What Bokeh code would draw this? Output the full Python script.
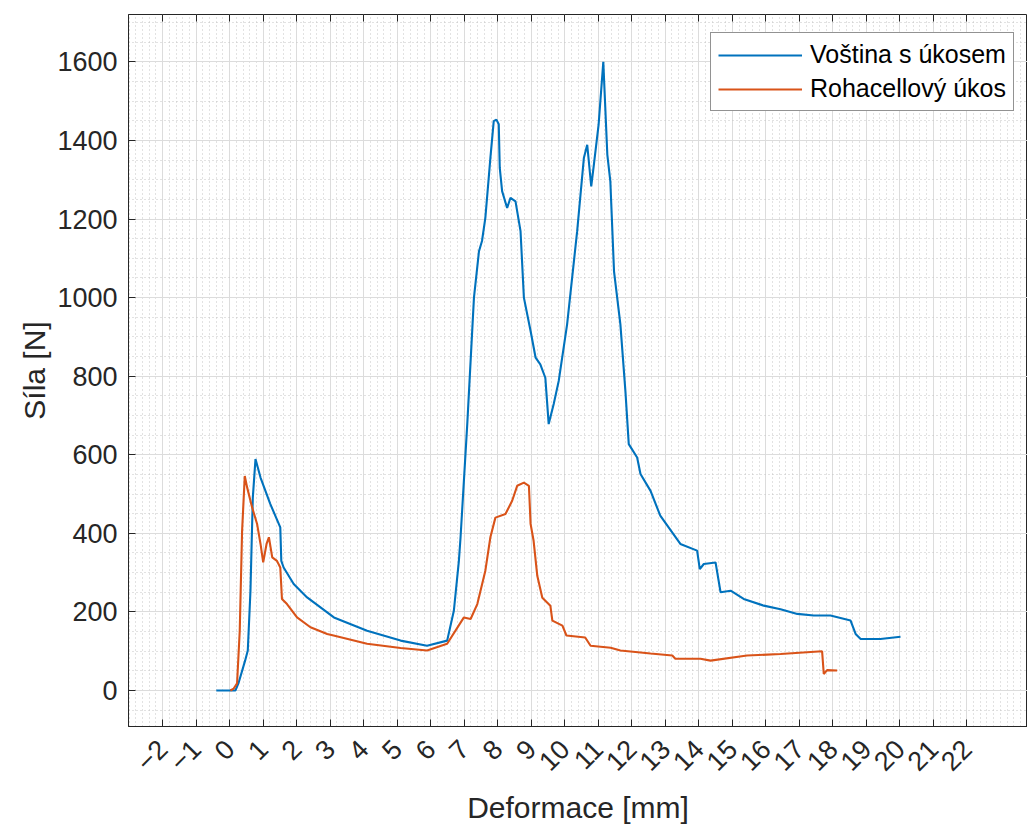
import math
import numpy as np
from bokeh.plotting import figure
from bokeh.models import (Range1d, FixedTicker, LinearAxis, Legend, LegendItem,
                          CustomLabelingPolicy)
from bokeh.embed import file_html
from bokeh.resources import INLINE

# ---- data ----
vostina_x = [-0.40, 0.17, 0.26, 0.46, 0.54, 0.62, 0.69, 0.77, 0.92, 1.21, 1.51, 1.54, 1.61,
             1.91, 2.31, 2.91, 3.11, 4.10, 5.10, 5.89, 6.49, 6.69, 6.84, 6.89, 7.09, 7.29,
             7.44, 7.53, 7.63, 7.78, 7.88, 7.96, 8.03, 8.06, 8.13, 8.28, 8.38, 8.53, 8.68,
             8.78, 8.98, 9.13, 9.27, 9.42, 9.47, 9.52, 9.67, 9.82, 10.07, 10.37, 10.57,
             10.67, 10.79, 10.87, 11.01, 11.15, 11.27, 11.36, 11.47, 11.66, 11.81, 11.91,
             12.16, 12.26, 12.56, 12.85, 13.45, 13.95, 14.03, 14.15, 14.50, 14.65, 14.95,
             15.34, 15.94, 16.44, 16.94, 17.43, 17.93, 18.53, 18.68, 18.83, 19.42, 20.02]
vostina_y = [0, 0, 18, 76, 102, 254, 491, 589, 542, 475, 415, 330, 313,
             271, 237, 199, 186, 152, 127, 114, 127, 203, 330, 390, 678, 1000,
             1118, 1144, 1203, 1355, 1449, 1453, 1441, 1330, 1271, 1228, 1254, 1245, 1169,
             1000, 915, 847, 830, 796, 737, 678, 729, 788, 932, 1169, 1355,
             1389, 1283, 1339, 1440, 1600, 1364, 1296, 1067, 932, 762, 627,
             593, 551, 508, 445, 373, 356, 309, 322, 326, 250, 254,
             233, 216, 207, 195, 191, 191, 178, 144, 131, 131, 137]

rohacell_x = [0.02, 0.12, 0.22, 0.30, 0.37, 0.45, 0.52, 0.67, 0.82, 0.92, 1.00, 1.10, 1.17,
              1.27, 1.41, 1.51, 1.56, 1.71, 2.01, 2.41, 2.91, 3.10, 4.10, 5.10, 5.89, 6.49,
              6.99, 7.19, 7.39, 7.63, 7.78, 7.93, 8.23, 8.43, 8.58, 8.78, 8.93, 8.98, 9.07,
              9.18, 9.33, 9.57, 9.63, 9.93, 10.05, 10.61, 10.77, 11.37, 11.66, 12.56, 13.21,
              13.30, 14.05, 14.35, 15.44, 16.44, 17.68, 17.73, 17.83, 18.13]
rohacell_y = [0, 5, 18, 152, 406, 546, 517, 466, 423, 373, 326, 373, 390,
              339, 330, 313, 233, 220, 186, 161, 144, 140, 119, 108, 102, 119,
              186, 182, 220, 305, 390, 440, 449, 483, 521, 529, 521, 424, 381,
              292, 236, 216, 178, 165, 140, 135, 114, 109, 102, 94, 89,
              81, 81, 76, 89, 93, 100, 42, 52, 51]

x_ticks = list(range(-2, 23))
y_ticks = list(range(0, 1601, 200))
series_labels = ["Voština s úkosem", "Rohacellový úkos"]

FONT = "Liberation Sans"
DARK = "#262626"

p = figure(width=1027, height=826, output_backend="svg", toolbar_location=None,
           x_range=Range1d(-3.02, 23.81), y_range=Range1d(-91.6, 1720.5),
           min_border_left=128, min_border_right=0, min_border_top=14, min_border_bottom=100,
           x_axis_label="Deformace [mm]", y_axis_label="Síla [N]")
p.outline_line_color = DARK
p.outline_line_width = 1

x_minor = [round(v, 2) for v in np.arange(-3.0, 24.0, 0.2)]
y_minor = list(range(-50, 1701, 50))
p.xaxis.ticker = FixedTicker(ticks=x_ticks, minor_ticks=x_minor)
p.yaxis.ticker = FixedTicker(ticks=y_ticks, minor_ticks=y_minor)

for ax in (p.xaxis[0], p.yaxis[0]):
    ax.axis_line_color = DARK
    ax.major_tick_line_color = DARK
    ax.major_tick_in = 7
    ax.major_tick_out = 0
    ax.minor_tick_line_color = None
    ax.major_label_text_font = FONT
    ax.major_label_text_font_size = "27px"
    ax.major_label_text_color = DARK
    ax.axis_label_text_font = FONT
    ax.axis_label_text_font_size = "30px"
    ax.axis_label_text_font_style = "normal"
    ax.axis_label_text_color = DARK

p.xaxis.major_label_orientation = math.pi / 4
p.xaxis.major_label_standoff = 14
p.xaxis.axis_label_standoff = 8
p.yaxis.major_label_standoff = 7
p.yaxis.axis_label_standoff = 3

# top border ticks (no labels)
top = LinearAxis(ticker=FixedTicker(ticks=x_ticks),
                 major_label_policy=CustomLabelingPolicy(code="return []"),
                 major_label_standoff=0, axis_line_color=None, major_tick_in=7,
                 major_tick_out=0, major_tick_line_color=DARK, minor_tick_line_color=None)
p.add_layout(top, "above")

p.xgrid.grid_line_color = "#dcdcdc"
p.ygrid.grid_line_color = "#dcdcdc"
for g in (p.xgrid[0], p.ygrid[0]):
    g.minor_grid_line_color = "#c4c4c4"
    g.minor_grid_line_dash = "1 3"
    g.minor_grid_line_width = 1

r1 = p.line(vostina_x, vostina_y, line_color="#0072BD", line_width=2.1)
r2 = p.line(rohacell_x, rohacell_y, line_color="#D95319", line_width=2.1)

legend = Legend(items=[LegendItem(label=series_labels[0], renderers=[r1]),
                       LegendItem(label=series_labels[1], renderers=[r2])],
                location=(582, 615))
legend.border_line_color = DARK
legend.border_line_width = 1
legend.background_fill_color = "white"
legend.background_fill_alpha = 1
legend.label_text_font = FONT
legend.label_text_font_size = "25px"
legend.label_text_color = "black"
legend.glyph_width = 84
legend.glyph_height = 28
legend.label_height = 28
legend.spacing = 5
legend.padding = 7
legend.margin = 0
legend.label_standoff = 8
p.add_layout(legend)

open("out.html", "w").write(file_html(p, INLINE))
